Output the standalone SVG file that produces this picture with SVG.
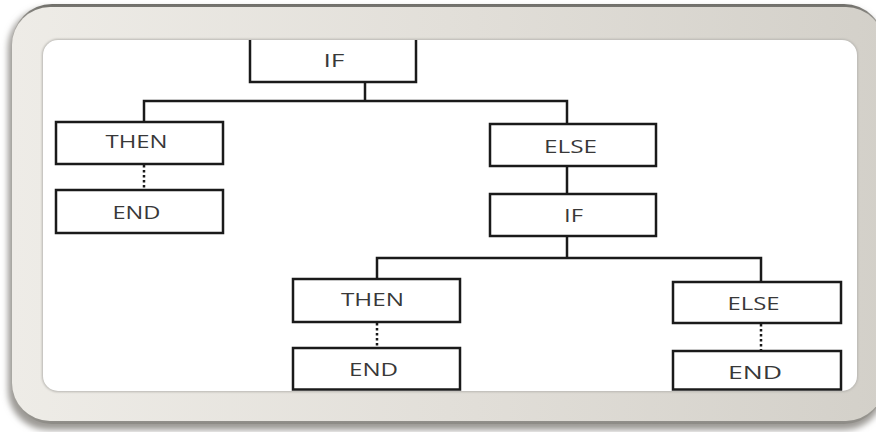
<svg xmlns="http://www.w3.org/2000/svg" width="876" height="432" viewBox="0 0 876 432">
  <defs>
    <linearGradient id="frameFill" x1="0" y1="0" x2="1" y2="0">
      <stop offset="0" stop-color="#eeece7"/>
      <stop offset="0.5" stop-color="#e2dfd9"/>
      <stop offset="1" stop-color="#d3d0c9"/>
    </linearGradient>
    <linearGradient id="rimFill" x1="0" y1="0" x2="0" y2="1">
      <stop offset="0" stop-color="#6f6e69"/>
      <stop offset="0.05" stop-color="#a9a7a1"/>
      <stop offset="0.95" stop-color="#a4a29c"/>
      <stop offset="1" stop-color="#8d8b86"/>
    </linearGradient>
    <filter id="soft" x="-5%" y="-5%" width="110%" height="115%">
      <feGaussianBlur stdDeviation="3"/>
    </filter>
    <filter id="inset" x="-2%" y="-2%" width="104%" height="104%">
      <feGaussianBlur stdDeviation="1"/>
    </filter>
    <clipPath id="panel">
      <rect x="43" y="40" width="814" height="351" rx="15"/>
    </clipPath>
    <style>
      .box { fill: #ffffff; stroke: #1a1a1a; stroke-width: 2.5; }
      .wire { fill: none; stroke: #1a1a1a; stroke-width: 2.5; }
      .dots { fill: none; stroke: #1a1a1a; stroke-width: 2.5; stroke-dasharray: 2.5 2.5; }
      .label { font-family: "Open Sans", "Liberation Sans", sans-serif; font-size: 18px; fill: #383838; text-anchor: middle; }
    </style>
  </defs>

  <!-- outer frame with soft drop shadow -->
  <rect x="8" y="8" width="876" height="422" rx="40" fill="#9c9a95" filter="url(#soft)"/>
  <rect x="12" y="4" width="872" height="420" rx="40" fill="url(#rimFill)"/>
  <rect x="12" y="7" width="872" height="414" rx="38" fill="url(#frameFill)"/>

  <!-- white panel -->
  <rect x="42" y="39" width="816" height="353" rx="16" fill="#b8b6b1" filter="url(#inset)"/>
  <rect x="43" y="40" width="814" height="351" rx="15" fill="#ffffff"/>

  <g clip-path="url(#panel)">
    <g id="connectors">
      <path class="wire" d="M365 82 V101 M144 122 V101 H567 V125"/>
      <path class="wire" d="M567 166 V194"/>
      <path class="wire" d="M567 236 V258 M377 279 V258 H761 V282"/>
      <path class="dots" d="M144 165 V190"/>
      <path class="dots" d="M377 323 V348"/>
      <path class="dots" d="M761 324 V351"/>
    </g>

    <g id="if-top">
      <rect class="box" x="250" y="36" width="166" height="46"/>
      <text class="label" x="334" y="67" textLength="21" lengthAdjust="spacingAndGlyphs">IF</text>
    </g>
    <g id="then-left">
      <rect class="box" x="56" y="122" width="167" height="42"/>
      <text class="label" x="136.5" y="148" textLength="62" lengthAdjust="spacingAndGlyphs">THEN</text>
    </g>
    <g id="end-left">
      <rect class="box" x="56" y="190" width="167" height="43"/>
      <text class="label" x="136.5" y="218.5" textLength="48" lengthAdjust="spacingAndGlyphs">END</text>
    </g>
    <g id="else-top">
      <rect class="box" x="490" y="124" width="166" height="42"/>
      <text class="label" x="570.5" y="152.5" textLength="53" lengthAdjust="spacingAndGlyphs">ELSE</text>
    </g>
    <g id="if-inner">
      <rect class="box" x="490" y="194" width="166" height="42"/>
      <text class="label" x="573.5" y="222" textLength="19" lengthAdjust="spacingAndGlyphs">IF</text>
    </g>
    <g id="then-inner">
      <rect class="box" x="293" y="279" width="167" height="43"/>
      <text class="label" x="372.5" y="306" textLength="63" lengthAdjust="spacingAndGlyphs">THEN</text>
    </g>
    <g id="end-inner">
      <rect class="box" x="293" y="348" width="167" height="41.5"/>
      <text class="label" x="373.5" y="376" textLength="49" lengthAdjust="spacingAndGlyphs">END</text>
    </g>
    <g id="else-inner">
      <rect class="box" x="673" y="282" width="168" height="41"/>
      <text class="label" x="753.5" y="310" textLength="52" lengthAdjust="spacingAndGlyphs">ELSE</text>
    </g>
    <g id="end-right">
      <rect class="box" x="673" y="351" width="168" height="38.5"/>
      <text class="label" x="755" y="378.5" textLength="54" lengthAdjust="spacingAndGlyphs">END</text>
    </g>
  </g>
</svg>
